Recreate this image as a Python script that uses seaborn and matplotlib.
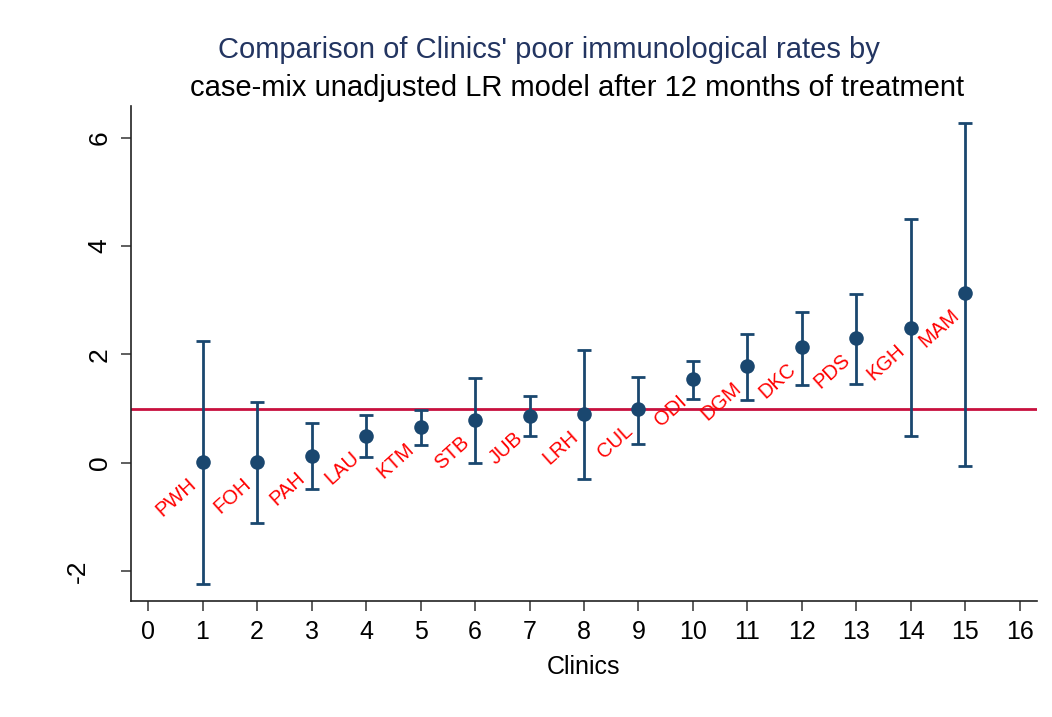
import matplotlib
matplotlib.use("Agg")
import matplotlib.pyplot as plt
import matplotlib.transforms as mtransforms
import seaborn as sns
import pandas as pd

# Clinic codes, positions and interval estimates
codes = ["PWH", "FOH", "PAH", "LAU", "KTM", "STB", "JUB", "LRH",
         "CUL", "ODI", "DGM", "DKC", "PDS", "KGH", "MAM"]
clinic = [1, 2, 3, 4, 5, 6, 7, 8, 9, 10, 11, 12, 13, 14, 15]
estimate = [0.01, 0.01, 0.12, 0.50, 0.66, 0.78, 0.86, 0.89,
            0.99, 1.54, 1.78, 2.14, 2.30, 2.49, 3.13]
lower = [-2.24, -1.12, -0.49, 0.11, 0.32, -0.01, 0.49, -0.31,
         0.35, 1.18, 1.15, 1.44, 1.46, 0.49, -0.06]
upper = [2.25, 1.12, 0.73, 0.88, 0.98, 1.57, 1.23, 2.08,
         1.59, 1.87, 2.38, 2.79, 3.11, 4.50, 6.28]
reference_rate = 1
x_ticks = list(range(0, 17))
y_ticks = [-2, 0, 2, 4, 6]

title_line1 = "Comparison of Clinics' poor immunological rates by"
title_line2 = "case-mix unadjusted LR model after 12 months of treatment"

df = pd.DataFrame({"clinic": clinic, "estimate": estimate,
                   "lower": lower, "upper": upper, "code": codes})

sns.set_style("white")
plt.rcParams["font.family"] = ["Liberation Sans", "DejaVu Sans"]

navy = "#1a476f"
fig = plt.figure(figsize=(10.52, 7.17), dpi=100)
ax = fig.add_axes([131 / 1052, 1 - 600.7 / 717, (1037 - 131) / 1052, (600.7 - 106) / 717])

# reference line
ax.axhline(reference_rate, color="#c8103e", lw=2.0, zorder=1)

# confidence intervals
ax.errorbar(df["clinic"], df["estimate"],
            yerr=[df["estimate"] - df["lower"], df["upper"] - df["estimate"]],
            fmt="none", ecolor=navy, elinewidth=2.0, capsize=5.2, capthick=2.0,
            zorder=2)

# point estimates
sns.scatterplot(data=df, x="clinic", y="estimate", ax=ax, color=navy,
                s=110, edgecolor=navy, linewidth=0, zorder=3, legend=False)

# clinic code labels, set below-left of each point
for _, row in df.iterrows():
    ax.annotate(row["code"], (row["clinic"], row["estimate"]),
                xytext=(-11, -9), textcoords="offset points",
                ha="right", va="top", rotation=42, rotation_mode="anchor",
                color="#ff0000", fontsize=14.5, zorder=4)

ax.set_xlim(-0.312, 16.312)
ax.set_ylim(-2.548, 6.586)
ax.set_xticks(x_ticks)
ax.set_yticks(y_ticks)
ax.set_xticklabels([str(v) for v in x_ticks], fontsize=18)
ax.set_yticklabels([str(v) for v in y_ticks], fontsize=19, rotation=90,
                   va="center")
ax.set_xlabel("Clinics", fontsize=18, labelpad=8, color="black")
ax.set_ylabel("")

for side in ["top", "right"]:
    ax.spines[side].set_visible(False)
for side in ["left", "bottom"]:
    ax.spines[side].set_color("#222222")
    ax.spines[side].set_linewidth(1.2)
ax.tick_params(axis="both", direction="out", length=7, width=1.1,
               color="#333333", labelcolor="black", pad=7,
               bottom=True, left=True)

# the negative label sits a little further out from the axis
for lbl in ax.get_yticklabels():
    if lbl.get_text().startswith("-"):
        lbl.set_transform(lbl.get_transform() +
                          mtransforms.ScaledTranslation(-22 / 100, 0, fig.dpi_scale_trans))

fig.text(549 / 1052, 1 - 50 / 717, title_line1, ha="center", va="center",
         fontsize=21, color="#233561")
fig.text(577 / 1052, 1 - 88 / 717, title_line2, ha="center", va="center",
         fontsize=21, color="black")

fig.savefig("out.png", dpi=100)
